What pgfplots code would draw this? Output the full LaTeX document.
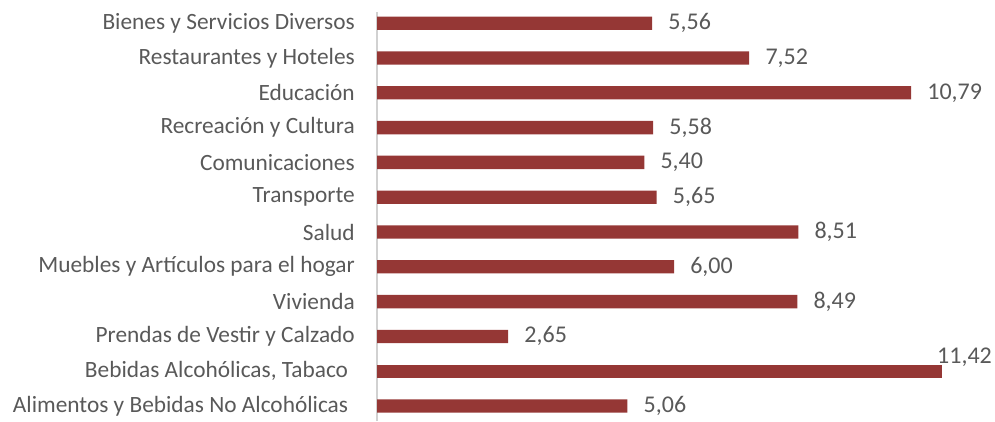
\documentclass[border=0pt]{standalone}
\usepackage{pgfplots}
\pgfplotsset{compat=1.18}
\usepackage{fontspec}
\setmainfont{Carlito}
\definecolor{barred}{HTML}{953735}
\definecolor{txt}{HTML}{595959}
\begin{document}
\begin{tikzpicture}
\useasboundingbox (0,0) rectangle (746.25pt,315.75pt);
\begin{axis}[
  at={(282.75pt,0pt)}, anchor=south west,
  scale only axis, width=445.5pt, height=306.7pt,
  xbar, bar shift=0pt, bar width=10pt,
  xmin=0, xmax=12, ymin=-0.43, ymax=11.32,
  axis x line=none, axis y line=left,
  y axis line style={-, draw=black!18, line width=0.8pt},
  ytick={0,...,11}, major tick length=0pt,
  yticklabels={Alimentos y Bebidas No Alcohólicas\hspace*{5pt}, {Bebidas Alcohólicas, Tabaco\hspace*{5pt}}, Prendas de Vestir y Calzado, Vivienda, Muebles y Artículos para el hogar, Salud, Transporte, Comunicaciones, Recreación y Cultura, Educación, Restaurantes y Hoteles, Bienes y Servicios Diversos},
  yticklabel style={inner sep=0pt, xshift=-16.5pt, text=txt, font=\fontsize{17.5}{20}\selectfont},
  /pgf/number format/assume math mode=true,
  nodes near coords={\pgfmathprintnumber[fixed, fixed zerofill, precision=2, use comma]{\pgfplotspointmeta}},
  every node near coord/.append style={text=txt, font=\fontsize{18}{20}\selectfont},
  clip=false,
]
\addplot[fill=barred, draw=none, nodes near coords style={anchor=west, inner sep=0pt, xshift=12pt}] coordinates {
(5.06,0) (2.65,2) (8.49,3) (6.00,4) (8.51,5) (5.65,6) (5.40,7) (5.58,8) (10.79,9) (7.52,10) (5.56,11)};
\addplot[fill=barred, draw=none, nodes near coords style={anchor=base west, inner sep=0pt, xshift=-4pt, yshift=5.6pt}] coordinates {(11.42,1)};
\end{axis}
\end{tikzpicture}
\end{document}
